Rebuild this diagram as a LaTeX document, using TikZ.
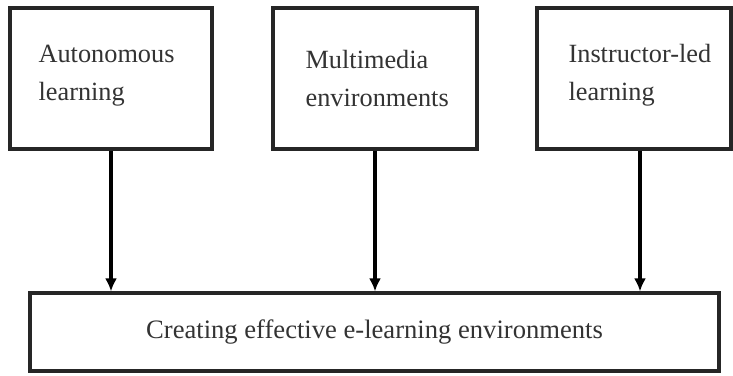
\documentclass[tikz,border=0pt]{standalone}
\usepackage{fontspec}
\setmainfont{Liberation Serif}
\usetikzlibrary{arrows.meta}
\begin{document}
\begin{tikzpicture}[x=1pt,y=-1pt,
  topbox/.style={draw=black!85, line width=3.2pt, rectangle,
    inner sep=0pt, minimum height=141pt},
  lbl/.style={anchor=west, align=left, inner sep=0pt,
    font=\fontsize{26.3}{38}\selectfont, text=black!80},
  bottombox/.style={draw=black!85, line width=3.2pt, rectangle,
    minimum width=689pt, minimum height=78pt,
    font=\fontsize{26.6}{37}\selectfont, text=black!80},
  arr/.style={line width=3.2pt, draw=black, -{Latex[length=13pt,width=12pt]}}]
\useasboundingbox (0,0) rectangle (733,375);
\fill[white] (0,0) rectangle (733,375);
\node[topbox, minimum width=202pt] (a) at (111,78.5) {};
\node[topbox, minimum width=204pt] (b) at (375,78.5) {};
\node[topbox, minimum width=194pt] (c) at (634,78.5) {};
\node[lbl] (at) at ([xshift=30pt,yshift=3pt]a.west) {Autonomous\\learning};
\node[lbl] (bt) at ([xshift=34pt,yshift=0pt]b.west) {Multimedia\\environments};
\node[lbl] (ctx) at ([xshift=33pt,yshift=3pt]c.west) {Instructor-led\\learning};
\node[bottombox] (e) at (374.5,332) {Creating effective e-learning environments};
\coordinate (ct) at ([xshift=6pt]c.south);
\draw[arr] (a.south) -- (a.south |- e.north);
\draw[arr] (b.south) -- (b.south |- e.north);
\draw[arr] (ct) -- (ct |- e.north);
\end{tikzpicture}
\end{document}
